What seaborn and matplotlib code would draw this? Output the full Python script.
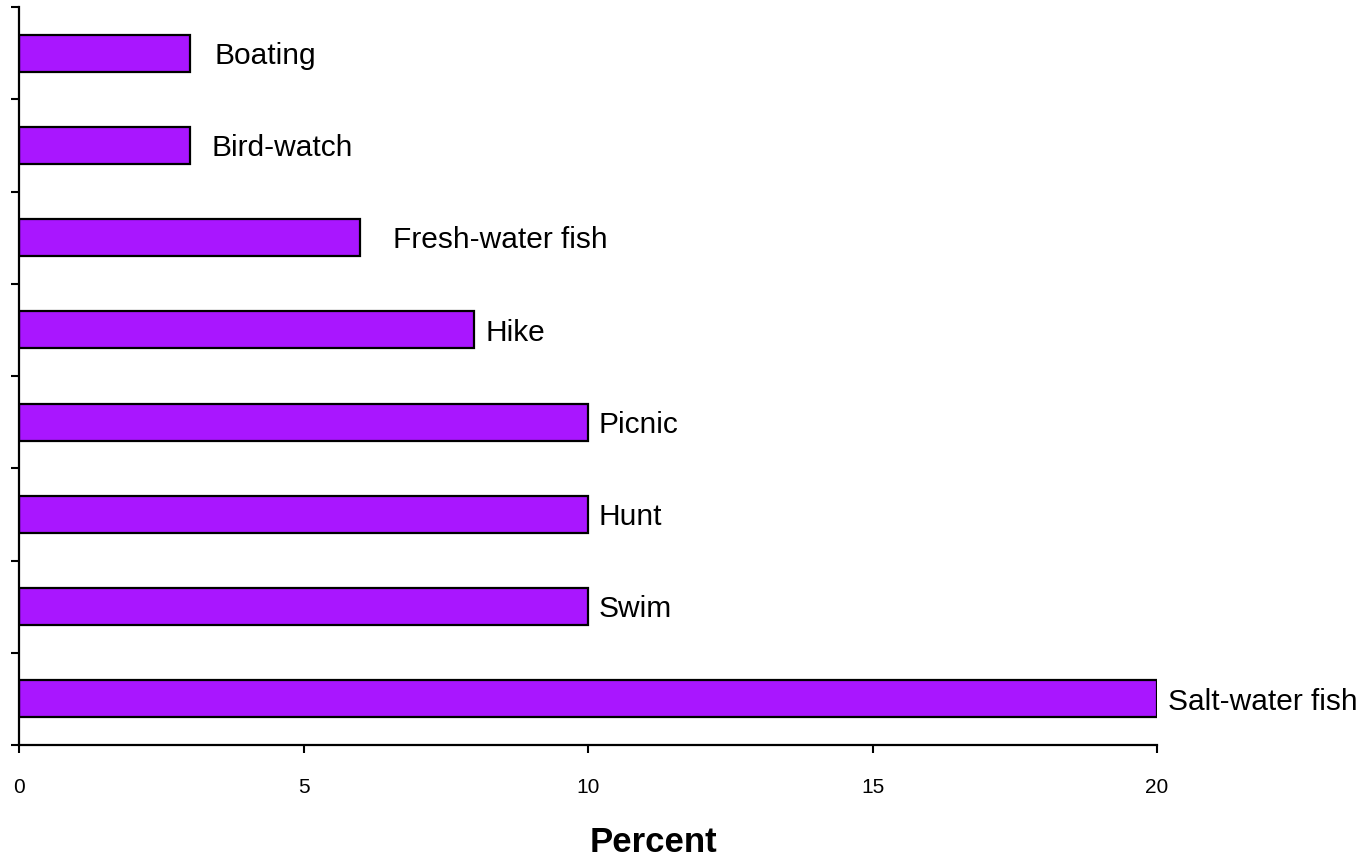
import matplotlib
matplotlib.use("Agg")
import matplotlib.pyplot as plt
import seaborn as sns
import pandas as pd

# Recreation activities and share of respondents (percent)
activities = ["Boating", "Bird-watch", "Fresh-water fish", "Hike",
              "Picnic", "Hunt", "Swim", "Salt-water fish"]
percent = [3, 3, 6, 8, 10, 10, 10, 20]
x_ticks = [0, 5, 10, 15, 20]

# per-label horizontal gap after the bar end (data units)
label_gap = [0.44, 0.39, 0.57, 0.19, 0.19, 0.19, 0.19, 0.19]

df = pd.DataFrame({"activity": activities, "percent": percent})

sns.set_style("white")
plt.rcParams["font.family"] = ["Liberation Sans", "DejaVu Sans"]
plt.rcParams["text.color"] = "black"

fig = plt.figure(figsize=(13.62, 8.64), dpi=100)
ax = fig.add_axes([19 / 1362, 119 / 864, 1138 / 1362, 738 / 864])

sns.barplot(data=df, x="percent", y="activity", orient="h", ax=ax,
            color="#A916FF", saturation=1, width=0.4,
            edgecolor="black", linewidth=1.6)

for i, (v, g, name) in enumerate(zip(percent, label_gap, activities)):
    ax.text(v + g, i + 0.03, name, ha="left", va="center",
            fontsize=21.5, color="black", clip_on=False)

ax.set_xlim(0, 20)
ax.set_ylim(len(activities) - 0.5, -0.5)
ax.set_xticks(x_ticks)
ax.set_xticklabels([str(t) for t in x_ticks])
ax.set_yticks([i - 0.5 for i in range(len(activities) + 1)])
ax.set_yticklabels([])
ax.tick_params(axis="both", direction="out", length=6, width=1.5,
               color="black", bottom=True, left=True)
ax.tick_params(axis="x", pad=18, labelsize=15, labelcolor="black")
ax.set_xlabel("")
ax.set_ylabel("")

for side in ["top", "right"]:
    ax.spines[side].set_visible(False)
for side in ["left", "bottom"]:
    ax.spines[side].set_color("black")
    ax.spines[side].set_linewidth(1.6)

fig.text(653 / 1362, 1 - 843 / 864, "Percent", ha="center", va="center",
         fontsize=25, fontweight="bold", color="black")

fig.savefig("out.png", dpi=100, facecolor="white")
